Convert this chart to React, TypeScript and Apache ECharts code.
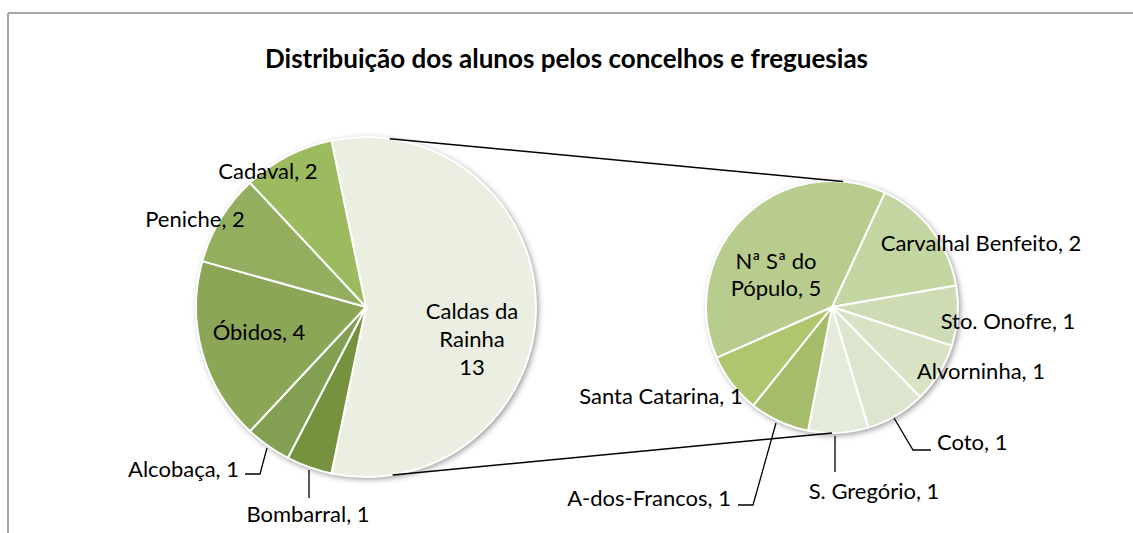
import React, { useEffect, useRef } from "react";
import * as echarts from "echarts";

const titleText = "Distribuição dos alunos pelos concelhos e freguesias";

// Left pie (concelhos)
const concelhos = ["Caldas da Rainha", "Bombarral", "Alcobaça", "Óbidos", "Peniche", "Cadaval"];
const concelhoValues = [13, 1, 1, 4, 2, 2];
const concelhoColors = ["#EAEFE2", "#77923F", "#839F52", "#8BA657", "#93AE5F", "#9CBA5E"];

// Right pie (freguesias of Caldas da Rainha)
const freguesias = [
  "Carvalhal Benfeito",
  "Sto. Onofre",
  "Alvorninha",
  "Coto",
  "S. Gregório",
  "A-dos-Francos",
  "Santa Catarina",
  "Nª Sª do Pópulo",
];
const freguesiaValues = [2, 1, 1, 1, 1, 1, 1, 5];
const freguesiaColors = ["#C3D5A0", "#CEDCB5", "#D7E3C4", "#DCE5CE", "#E4EBDB", "#A5BC6A", "#AEC76E", "#B8CC8D"];

// geometry
const L = { cx: 366, cy: 307, r: 170 };
const R = { cx: 832, cy: 307, r: 126 };

type LP = { x: number; y: number; align: string; line?: number[][] };
const leftLabels: Record<string, LP> = {
  "Caldas da Rainha": { x: 472, y: 338, align: "center" },
  "Bombarral": { x: 308, y: 513, align: "center", line: [[309, 470], [309, 484], [309, 498]] },
  "Alcobaça": { x: 239, y: 468, align: "right", line: [[267, 448], [260, 474], [245, 474]] },
  "Óbidos": { x: 259, y: 331, align: "center" },
  "Peniche": { x: 195, y: 218, align: "center" },
  "Cadaval": { x: 268, y: 170, align: "center" },
};
const rightLabels: Record<string, LP> = {
  "Carvalhal Benfeito": { x: 981, y: 242, align: "center" },
  "Sto. Onofre": { x: 1008, y: 320, align: "center" },
  "Alvorninha": { x: 981, y: 370, align: "center" },
  "Coto": { x: 937, y: 441, align: "left", line: [[894, 418], [913, 450], [931, 450]] },
  "S. Gregório": { x: 874, y: 490, align: "center", line: [[835, 436], [835, 454], [835, 472]] },
  "A-dos-Francos": { x: 731, y: 497, align: "right", line: [[776, 423], [753, 505], [738, 505]] },
  "Santa Catarina": { x: 661, y: 395, align: "center" },
  "Nª Sª do Pópulo": { x: 776, y: 274, align: "center" },
};

const FONT = "Lato";

function pt(c: { cx: number; cy: number; r: number }, deg: number) {
  const a = (deg * Math.PI) / 180;
  return [c.cx + c.r * Math.cos(a), c.cy - c.r * Math.sin(a)];
}

export default function App() {
  const ref = useRef<HTMLDivElement>(null);
  useEffect(() => {
    if (!ref.current) return;
    const chart = echarts.init(ref.current, undefined, { renderer: "svg" });
    const total = concelhoValues.reduce((a, b) => a + b, 0);
    const leftStart = (concelhoValues[0] / total) * 180;
    const rightStart = 65.2;

    const lt = pt(L, 82), lb = pt(L, -81), rt = pt(R, 85), rb = pt(R, -90);

    const labelBase = {
      show: true,
      position: "outside",
      color: "#000",
      fontFamily: FONT,
      fontSize: 22,
      lineHeight: 27,
      formatter: "{b}, {c}",
    };

    const leftData = concelhos.map((n, i) => ({
      name: n,
      value: concelhoValues[i],
      itemStyle: { color: concelhoColors[i] },
      labelLine: { show: !!leftLabels[n].line },
      label: n === "Caldas da Rainha" ? { formatter: "Caldas da\nRainha\n{c}", lineHeight: 28 } : undefined,
    }));
    const rightData = freguesias.map((n, i) => ({
      name: n,
      value: freguesiaValues[i],
      itemStyle: { color: freguesiaColors[i] },
      labelLine: { show: !!rightLabels[n].line },
      label: n === "Nª Sª do Pópulo" ? { formatter: "Nª Sª do\nPópulo, {c}" } : undefined,
    }));

    const makeLayout = (names: string[], map: Record<string, LP>) => (params: any) => {
      const p = map[names[params.dataIndex]];
      const out: any = { x: p.x, y: p.y, align: p.align, verticalAlign: "middle" };
      if (p.line) out.labelLinePoints = p.line;
      return out;
    };

    chart.setOption({
      animation: false,
      backgroundColor: "#fff",
      title: {
        text: titleText,
        left: "center",
        top: 40,
        textStyle: { fontFamily: FONT, fontWeight: "bold", fontSize: 26, color: "#000" },
      },
      graphic: [
        { type: "line", shape: { x1: 8, y1: 13, x2: 1133, y2: 13 }, style: { stroke: "#A6A6A6", lineWidth: 2 }, z: 0 },
        { type: "line", shape: { x1: 8, y1: 13, x2: 8, y2: 533 }, style: { stroke: "#A6A6A6", lineWidth: 2 }, z: 0 },
        {
          type: "circle",
          shape: { cx: L.cx, cy: L.cy, r: L.r },
          style: { fill: "#fff", shadowBlur: 6, shadowOffsetX: 2, shadowOffsetY: 2, shadowColor: "rgba(0,0,0,0.45)" },
          z: 0,
        },
        {
          type: "circle",
          shape: { cx: R.cx, cy: R.cy, r: R.r },
          style: { fill: "#fff", shadowBlur: 6, shadowOffsetX: 2, shadowOffsetY: 2, shadowColor: "rgba(0,0,0,0.45)" },
          z: 0,
        },
        { type: "line", shape: { x1: lt[0], y1: lt[1], x2: rt[0], y2: rt[1] }, style: { stroke: "#000", lineWidth: 1.5 }, z: 10 },
        { type: "line", shape: { x1: lb[0], y1: lb[1], x2: rb[0], y2: rb[1] }, style: { stroke: "#000", lineWidth: 1.5 }, z: 10 },
      ],
      series: [
        {
          type: "pie",
          center: [L.cx, L.cy],
          radius: L.r,
          startAngle: leftStart,
          clockwise: true,
          avoidLabelOverlap: false,
          itemStyle: { borderColor: "#fff", borderWidth: 2 },
          label: labelBase,
          labelLine: { show: true, lineStyle: { color: "#000", width: 1.3 } },
          labelLayout: makeLayout(concelhos, leftLabels),
          emphasis: { disabled: true },
          data: leftData,
          z: 2,
        },
        {
          type: "pie",
          center: [R.cx, R.cy],
          radius: R.r,
          startAngle: rightStart,
          clockwise: true,
          avoidLabelOverlap: false,
          itemStyle: { borderColor: "#fff", borderWidth: 2 },
          label: labelBase,
          labelLine: { show: true, lineStyle: { color: "#000", width: 1.3 } },
          labelLayout: makeLayout(freguesias, rightLabels),
          emphasis: { disabled: true },
          data: rightData,
          z: 2,
        },
      ],
    });
    return () => chart.dispose();
  }, []);
  return <div ref={ref} style={{ position: "fixed", left: 0, top: 0, width: 1133, height: 533 }} />;
}
